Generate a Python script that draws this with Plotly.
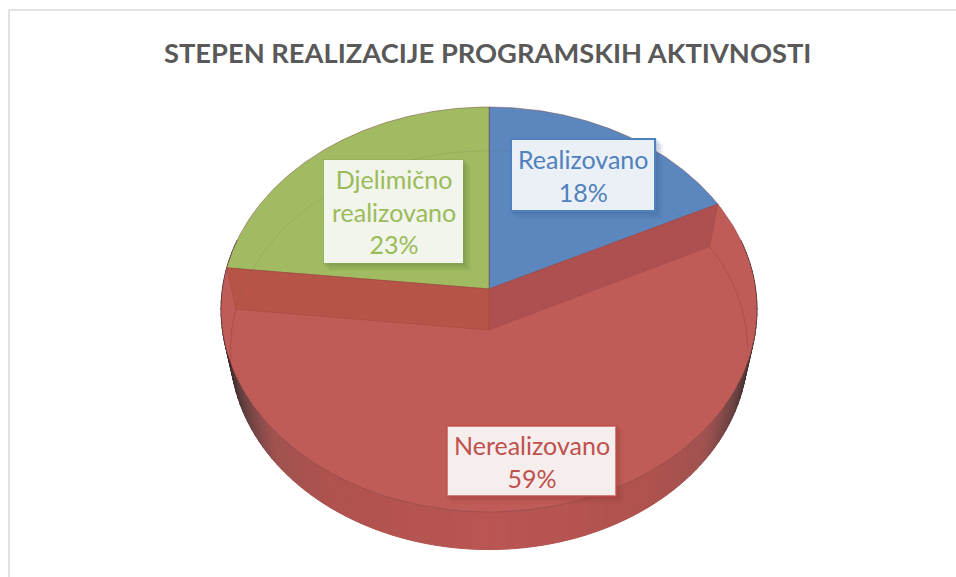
import numpy as np
import plotly.graph_objects as go

# --- data ---
categories = ["Realizovano", "Nerealizovano", "Djelimično<br>realizovano"]
values = [17.7, 59.0, 23.3]
label_text_colors = ["#4F81BD", "#C0504D", "#9BBB59"]
slice_colors = ["#5B87BE", "#C05C57", "#A0BB61"]
title_text = "STEPEN REALIZACIJE PROGRAMSKIH AKTIVNOSTI"

# --- perspective view of the pie ---
CX, TOP_Y, BOT_Y = 489.0, 289.0, 330.0
RX, RY, K = 266.6, 200.4, 0.101
BOT_SX, BOT_SY = 0.965, 0.985


def project(theta, plane="top"):
    u, v = np.sin(theta), np.cos(theta)
    s = 1 / (1 + K * v)
    if plane == "top":
        return CX + RX * u * s, TOP_Y - RY * v * s
    return CX + RX * BOT_SX * u * s, BOT_Y - RY * BOT_SY * v * s


def wall_color(x):
    t = abs(x - CX) / 268.0
    stops_t = [0, 0.6, 0.82, 0.93, 1.0]
    stops = np.array([[186, 86, 84], [176, 82, 78], [160, 82, 80], [105, 65, 65], [55, 42, 42]])
    c = [np.interp(t, stops_t, stops[:, i]) for i in range(3)]
    return "rgb(%d,%d,%d)" % tuple(c)


fig = go.Figure()


def poly(xs, ys, fill, line=None, width=0.0):
    fig.add_trace(go.Scatter(
        x=list(xs), y=list(ys), mode="lines", fill="toself", fillcolor=fill,
        line=dict(color=line or fill, width=width), hoverinfo="skip", showlegend=False))


# side wall
phis = np.linspace(np.pi * 0.42, np.pi * 1.58, 117)
for a, b in zip(phis[:-1], phis[1:]):
    xa, ya = project(a)
    xb, yb = project(b)
    xc, yc = project(b, "bot")
    xd, yd = project(a, "bot")
    poly([xa, xb, xc, xd, xa], [ya, yb, yc, yd, ya], wall_color((xa + xb) / 2), width=1)

# slices on the top plane (clockwise from 12 o'clock)
fractions = np.array(values) / sum(values)
edges = np.concatenate([[0], np.cumsum(fractions)]) * 2 * np.pi
# red first so the wall and others sit over it
for i in [1, 0, 2]:
    th = np.linspace(edges[i], edges[i + 1], 160)
    x, y = project(th)
    poly(np.r_[CX, x, CX], np.r_[TOP_Y, y, TOP_Y], slice_colors[i], line="rgba(120,60,60,0.45)", width=1)

# inner cut faces seen through the red slice
th_a, th_b = edges[1], edges[2]
xa_t, ya_t = project(th_a)
xa_b, ya_b = project(th_a, "bot")
xb_t, yb_t = project(th_b)
xb_b, yb_b = project(th_b, "bot")
poly([CX, xa_t, xa_b, CX, CX], [TOP_Y, ya_t, ya_b, BOT_Y, TOP_Y], "#AE4F50", line="#A34A4A", width=0.6)
poly([CX, xb_t, xb_b, CX, CX], [TOP_Y, yb_t, yb_b, BOT_Y, TOP_Y], "#B65448", line="#A34A42", width=0.6)

# faint lower rim, visible through the translucent slices
th = np.linspace(edges[2], 2 * np.pi + edges[1], 120)
x, y = project(th, "bot")
fig.add_trace(go.Scatter(x=x, y=y, mode="lines", line=dict(color="rgba(90,90,90,0.14)", width=1),
                         hoverinfo="skip", showlegend=False))
th = np.linspace(edges[1], edges[1] + 0.55, 80)
x, y = project(th, "bot")
fig.add_trace(go.Scatter(x=x, y=y, mode="lines", line=dict(color="rgba(140,50,50,0.35)", width=1),
                         hoverinfo="skip", showlegend=False))
th = np.linspace(edges[2] - 0.35, edges[2], 40)
x, y = project(th, "bot")
fig.add_trace(go.Scatter(x=x, y=y, mode="lines", line=dict(color="rgba(140,50,50,0.35)", width=1),
                         hoverinfo="skip", showlegend=False))

# --- labels ---
boxes = [(511, 139, 655, 211), (447, 426, 616, 496), (324, 160, 463, 263)]
fills = ["#EBF0F6", "#F6EDED", "#F1F5EC"]
borders = ["#4F81BD", "rgba(192,80,77,0.7)", "rgba(0,0,0,0)"]
shadow = ["rgba(50,90,140,%s)", "rgba(140,50,50,%s)", "rgba(90,120,50,%s)"]
shapes = []
for (x0, y0, x1, y1), f, b, sh in zip(boxes, fills, borders, shadow):
    for off, al in [(8, 0.07), (6, 0.09), (4, 0.11), (2, 0.13)]:
        shapes.append(dict(type="rect", x0=x0 + off - 3, y0=y0 + off - 3, x1=x1 + off, y1=y1 + off,
                           fillcolor=sh % al, line_width=0, layer="above"))
    shapes.append(dict(type="rect", x0=x0, y0=y0, x1=x1, y1=y1, fillcolor=f,
                       line=dict(color=b, width=2), layer="above"))
# chart frame
shapes.append(dict(type="line", x0=9, y0=10, x1=9, y1=577, line=dict(color="#D9D9D9", width=1.5)))
shapes.append(dict(type="line", x0=9, y0=10, x1=956, y1=10, line=dict(color="#D9D9D9", width=1.5)))

annotations = []
for cat, val, (x0, y0, x1, y1), col in zip(categories, values, boxes, label_text_colors):
    annotations.append(dict(
        x=(x0 + x1) / 2, y=(y0 + y1) / 2, xref="x", yref="y", showarrow=False, align="center",
        text="%s<br>%d%%" % (cat, round(val)), font=dict(family="Lato, Open Sans", size=25, color=col)))
annotations.append(dict(
    x=487.5, y=52, xref="x", yref="y", showarrow=False, text="<b>%s</b>" % title_text,
    font=dict(family="Lato, Open Sans", size=27.3, color="#595959")))

fig.update_layout(
    width=956, height=577, margin=dict(l=0, r=0, t=0, b=0),
    paper_bgcolor="white", plot_bgcolor="white", showlegend=False,
    xaxis=dict(range=[0, 956], visible=False, fixedrange=True),
    yaxis=dict(range=[577, 0], visible=False, fixedrange=True),
    shapes=shapes, annotations=annotations,
)
# the page's default 8 px body margin is removed so the chart fills the window
fig.write_html("out.html", config=dict(displayModeBar=False), default_width="956px", default_height="577px",
               post_script="document.body.style.margin='0';document.documentElement.style.overflow='hidden';")
